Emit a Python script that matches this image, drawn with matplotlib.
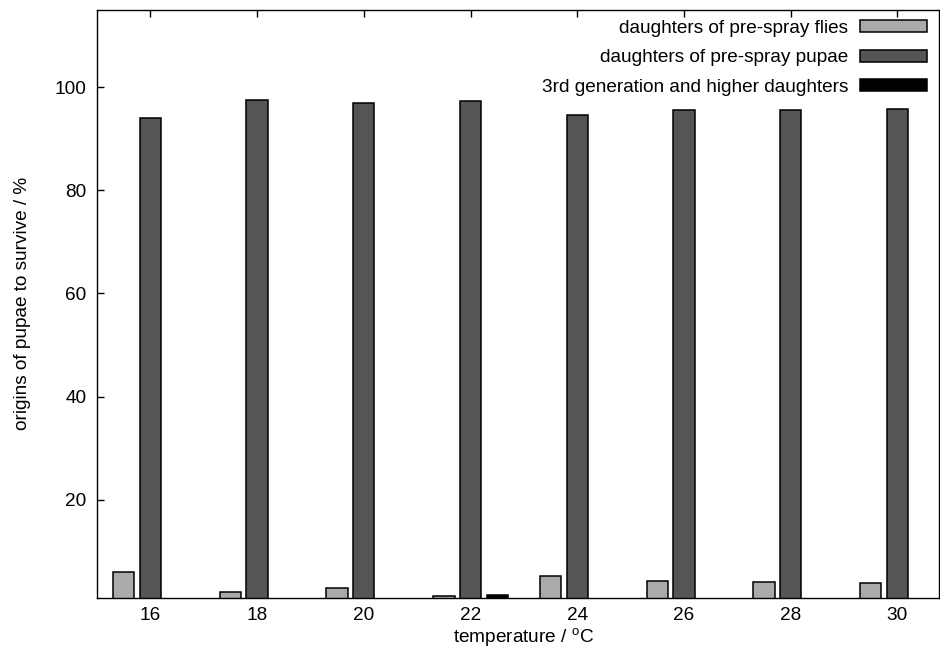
import numpy as np
import matplotlib
matplotlib.use("Agg")
import matplotlib.pyplot as plt

plt.rcParams['font.family'] = ['Liberation Sans', 'DejaVu Sans']
plt.rcParams['mathtext.fontset'] = 'custom'
plt.rcParams['mathtext.rm'] = 'Liberation Sans'

# data
temps = ['16', '18', '20', '22', '24', '26', '28', '30']
flies = [5.9, 2.0, 2.8, 1.2, 5.2, 4.25, 4.05, 3.75]
pupae = [94.0, 97.6, 96.9, 97.4, 94.7, 95.6, 95.6, 95.7]
higher = [0.1, 0.1, 0.3, 1.45, 0.1, 0.2, 0.2, 0.1]
labels = ['daughters of pre-spray flies',
          'daughters of pre-spray pupae',
          '3rd generation and higher daughters']
colors = ['#aaaaaa', '#555555', '#000000']

W, H = 940, 658
fig = plt.figure(figsize=(W / 100, H / 100), dpi=100)
ax = fig.add_axes([97 / W, (H - 597.5) / H, (939 - 97) / W, (597.5 - 10) / H])

x = np.arange(len(temps))
for k, (vals, lab, c) in enumerate(zip([flies, pupae, higher], labels, colors)):
    ax.bar(x + (k - 1) * 0.25, vals, width=0.2, color=c, edgecolor='black',
           linewidth=1.1, label=lab, zorder=1)

ax.set_xlim(-0.5, 7.39)
ax.set_ylim(1, 115)
ax.set_xticks(x)
ax.set_xticklabels(temps)
ax.set_yticks([20, 40, 60, 80, 100])
ax.set_axisbelow(True)

fs = 13.7
ax.tick_params(axis='both', direction='in', length=5, width=1.0, labelsize=fs)
ax.tick_params(axis='x', top=True, pad=7)
ax.tick_params(axis='y', right=False, pad=7.5)
for s in ax.spines.values():
    s.set_linewidth(1.0)

ax.set_xlabel(r'temperature / $^{\mathrm{o}}$C', fontsize=fs, labelpad=1.5)
ax.xaxis.label.set_x(0.507)
ax.set_ylabel('origins of pupae to survive / %', fontsize=fs)
ax.yaxis.set_label_coords(-66 / 842, 0.5)

ax.legend(loc='upper right', bbox_to_anchor=(927 / W, 1 - 20 / H),
          bbox_transform=fig.transFigure, frameon=False, markerfirst=False,
          fontsize=fs, handlelength=3.5, handleheight=0.62,
          handletextpad=0.65, labelspacing=0.65, borderpad=0,
          borderaxespad=0)

plt.savefig('out.png', dpi=100)
